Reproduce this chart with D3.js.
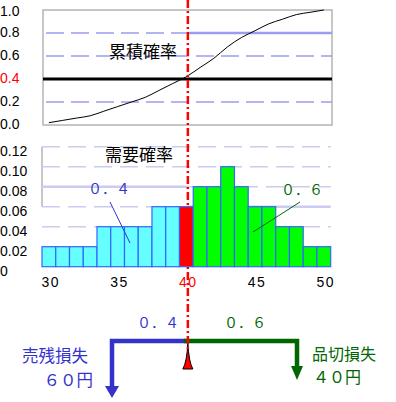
<!DOCTYPE html>
<html>
<head>
<meta charset="utf-8">
<script src="https://cdn.jsdelivr.net/npm/d3@7"></script>
<style>
  body { margin: 0; background: #fff; }
  svg { display: block; }
  .tick-label { font-family: "Liberation Sans", Arial, sans-serif; font-size: 14px; }
  .jp { font-family: "Noto Sans CJK JP", sans-serif; }
</style>
</head>
<body>
<svg id="chart" width="396" height="402"></svg>
<script>
// demand values and their probabilities
let demand = [30,31,32,33,34,35,36,37,38,39,40,41,42,43,44,45,46,47,48,49,50]
let prob = [0.02,0.02,0.02,0.02,0.04,0.04,0.04,0.04,0.06,0.06,0.06,
            0.08,0.08,0.10,0.08,0.06,0.06,0.04,0.04,0.02,0.02]
// cumulative probability
let cumProb = [0.02,0.04,0.06,0.08,0.12,0.16,0.20,0.24,0.30,0.36,0.42,
               0.50,0.58,0.68,0.76,0.82,0.88,0.92,0.96,0.98,1.00]
let xTicks = [30,35,40,45,50]
let cumTicks = [0.0,0.2,0.4,0.6,0.8,1.0]
let probTicks = [0,0.02,0.04,0.06,0.08,0.10,0.12]
let orderQty = 40
let shareUnder = "０．４"
let shareOver = "０．６"

let svg = d3.select("#chart")

let xScale = d3.scaleLinear().domain([29.5,50.5]).range([42,330.7])
let yCum = d3.scaleLinear().domain([0,1]).range([125,10])
let yProb = d3.scaleLinear().domain([0,0.12]).range([266.7,146.7])
let bw = xScale(1) - xScale(0)
let xq = xScale(orderQty) + 1.5

// ---------- upper chart: cumulative probability ----------
let upper = svg.append("g")
upper.append("rect").attr("x",43).attr("y",10).attr("width",289).attr("height",115)
   .attr("fill","none").attr("stroke","#b4b4b4").attr("stroke-width",1.5)

cumTicks.forEach(function (t){
    if (t===0 || t===1) return
    let y = yCum(t)
    if (t===0.4){
        upper.append("line").attr("x1",43).attr("x2",332).attr("y1",y).attr("y2",y)
           .attr("stroke","#000").attr("stroke-width",3)
    } else if (t===0.8){
        upper.append("line").attr("x1",46).attr("x2",xq).attr("y1",y).attr("y2",y)
           .attr("stroke","#9c9cf0").attr("stroke-width",1.5).attr("stroke-dasharray","18,7")
        upper.append("line").attr("x1",xq).attr("x2",332).attr("y1",y).attr("y2",y)
           .attr("stroke","#9c9cf0").attr("stroke-width",2.5)
    } else {
        upper.append("line").attr("x1",46).attr("x2",332).attr("y1",y).attr("y2",y)
           .attr("stroke","#9c9cf0").attr("stroke-width",1.5).attr("stroke-dasharray","18,7")
    }
})

cumTicks.forEach(function (t){
    upper.append("text").attr("class","tick-label")
       .attr("x",0).attr("y",Math.max(yCum(t),12))
       .attr("dominant-baseline","middle")
       .attr("fill", t===0.4 ? "#ff0000" : "#000")
       .text(t.toFixed(1))
})

let cumLine = d3.line()
    .x(function (d,i){return xScale(demand[i])})
    .y(function (d){return yCum(d)})
    .curve(d3.curveMonotoneX)
upper.append("path").datum(cumProb).attr("d",cumLine)
   .attr("fill","none").attr("stroke","#000").attr("stroke-width",1)

upper.append("text").attr("class","jp").attr("x",143).attr("y",53)
   .attr("text-anchor","middle").attr("dominant-baseline","middle")
   .attr("font-size",17).text("累積確率")

// ---------- lower chart: demand probability ----------
let lower = svg.append("g")
lower.append("line").attr("x1",42).attr("x2",42).attr("y1",146.7).attr("y2",206.7)
   .attr("stroke","#b4b4b4").attr("stroke-width",1.5)

probTicks.forEach(function (t){
    if (t===0) return
    let y = yProb(t)
    if (Math.abs(t-0.08)<1e-9){
        lower.append("line").attr("x1",42).attr("x2",xq).attr("y1",y).attr("y2",y)
           .attr("stroke","#ccccf2").attr("stroke-width",2.5)
        lower.append("line").attr("x1",xq).attr("x2",330.7).attr("y1",y).attr("y2",y)
           .attr("stroke","#ccccf2").attr("stroke-width",1.5).attr("stroke-dasharray","18,8")
    } else if (Math.abs(t-0.06)<1e-9){
        lower.append("line").attr("x1",42).attr("x2",xq).attr("y1",y).attr("y2",y)
           .attr("stroke","#ccccf2").attr("stroke-width",1.5).attr("stroke-dasharray","18,8")
        lower.append("line").attr("x1",xq).attr("x2",330.7).attr("y1",y).attr("y2",y)
           .attr("stroke","#ccccf2").attr("stroke-width",2.5)
    } else {
        lower.append("line").attr("x1",42).attr("x2",330.7).attr("y1",y).attr("y2",y)
           .attr("stroke","#ccccf2").attr("stroke-width",1.5).attr("stroke-dasharray","18,8")
    }
})

probTicks.forEach(function (t){
    lower.append("text").attr("class","tick-label")
       .attr("x",0).attr("y",yProb(t)+6)
       .attr("dominant-baseline","middle")
       .text(t===0 ? "0" : t.toFixed(2))
})

lower.selectAll(".bar").data(prob).enter()
   .append("rect").attr("class","bar")
   .attr("x",function (d,i){return xScale(demand[i]) - bw/2})
   .attr("y",function (d){return yProb(d)})
   .attr("width",bw)
   .attr("height",function (d){return yProb(0) - yProb(d)})
   .attr("fill",function (d,i){
       if (demand[i] < orderQty) return "#66ffff"
       if (demand[i] === orderQty) return "#ff0000"
       return "#00ff00"
   })
   .attr("stroke","#3366ff").attr("stroke-width",1.2)

xTicks.forEach(function (t){
    lower.append("text").attr("class","tick-label")
       .attr("x",xScale(t)+2).attr("y",283.5)
       .attr("text-anchor","middle").attr("dominant-baseline","middle")
       .attr("letter-spacing",1.5).attr("font-size",15)
       .attr("fill", t===orderQty ? "#ff0000" : "#000")
       .text(t)
})

lower.append("text").attr("class","jp").attr("x",139).attr("y",156)
   .attr("text-anchor","middle").attr("dominant-baseline","middle")
   .attr("font-size",17).text("需要確率")

// share annotations
lower.append("line").attr("x1",110).attr("y1",202).attr("x2",130).attr("y2",243)
   .attr("stroke","#3333cc").attr("stroke-width",1)
lower.append("text").attr("class","jp").attr("x",88).attr("y",190)
   .attr("dominant-baseline","middle").attr("font-size",14)
   .attr("fill","#3333cc").text(shareUnder)
lower.append("line").attr("x1",300).attr("y1",202).attr("x2",253).attr("y2",232)
   .attr("stroke","#006600").attr("stroke-width",1)
lower.append("text").attr("class","jp").attr("x",281).attr("y",191)
   .attr("dominant-baseline","middle").attr("font-size",14)
   .attr("fill","#006600").text(shareOver)

// ---------- balance diagram ----------
let bal = svg.append("g")
bal.append("path").attr("d",`M${xq-2},341 H112 V387`)
   .attr("fill","none").attr("stroke","#3333cc").attr("stroke-width",4.5)
bal.append("path").attr("d","M105,386 L119,386 L112,398 Z").attr("fill","#3333cc")
bal.append("path").attr("d",`M${xq-4},341 H297 V368`)
   .attr("fill","none").attr("stroke","#006600").attr("stroke-width",4.5)
bal.append("path").attr("d","M291,366 L303,366 L297,380 Z").attr("fill","#006600")

// fulcrum
bal.append("path")
   .attr("d",`M${xq},343 Q${xq+1},362 ${xq+5},369 L${xq-5},369 Q${xq-1},362 ${xq},343 Z`)
   .attr("fill","#ff0000").attr("stroke","#000").attr("stroke-width",1)

bal.append("text").attr("class","jp").attr("x",137).attr("y",324)
   .attr("dominant-baseline","middle").attr("font-size",14)
   .attr("fill","#3333cc").text(shareUnder)
bal.append("text").attr("class","jp").attr("x",224).attr("y",324)
   .attr("dominant-baseline","middle").attr("font-size",14)
   .attr("fill","#006600").text(shareOver)

bal.append("text").attr("class","jp").attr("x",22).attr("y",358)
   .attr("dominant-baseline","middle").attr("font-size",16.5)
   .attr("fill","#3333cc").text("売残損失")
bal.append("text").attr("class","jp").attr("x",93).attr("y",382)
   .attr("text-anchor","end").attr("dominant-baseline","middle").attr("font-size",16.5)
   .attr("fill","#3333cc").text("６０円")
bal.append("text").attr("class","jp").attr("x",312).attr("y",355.5)
   .attr("dominant-baseline","middle").attr("font-size",16)
   .attr("fill","#006600").text("品切損失")
bal.append("text").attr("class","jp").attr("x",313).attr("y",379)
   .attr("dominant-baseline","middle").attr("font-size",16)
   .attr("fill","#006600").text("４０円")

// red order-quantity line across everything
svg.append("line").attr("x1",xq).attr("x2",xq).attr("y1",0).attr("y2",352)
   .attr("stroke","#ff0000").attr("stroke-width",2.5).attr("stroke-dasharray","8,3,2,3")
</script>
</body>
</html>
